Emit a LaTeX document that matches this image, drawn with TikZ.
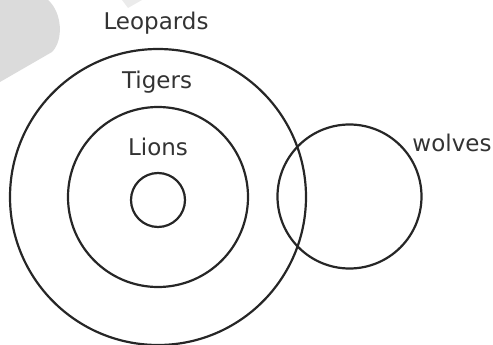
\documentclass[tikz,border=0pt]{standalone}
\usepackage{fontspec}
\setmainfont{DejaVu Sans}
\begin{document}
\begin{tikzpicture}[x=1pt,y=-1pt,
  ring/.style={draw=black!85,line width=2.2pt},
  lbl/.style={text=black!80,font=\fontsize{23}{26}\selectfont,inner sep=0pt}]
\useasboundingbox (0,0) rectangle (493,345);
% faint background marks
\fill[black!14] (0,0) -- (48,0) .. controls (62,12) and (64,40) .. (52,52) -- (0,82) -- cycle;
\fill[black!8] (122,0) -- (142,0) -- (128,8) -- cycle;
% circles
\node[ring,circle,minimum size=296pt,inner sep=0pt] (leo) at (158,197) {};
\node[ring,circle,minimum size=180pt,inner sep=0pt] (tig) at (158,197) {};
\node[ring,circle,minimum size=54pt,inner sep=0pt] (lio) at (158,200) {};
\node[ring,circle,minimum size=144pt,inner sep=0pt] (wol) at (349.5,196.5) {};
% labels
\node[lbl] (tleo) at (156,23) {Leopards};
\node[lbl] (ttig) at (157,82) {Tigers};
\node[lbl] (tlio) at (158,147) {Lions};
\node[lbl] (twol) at (452,143) {wolves};
\end{tikzpicture}
\end{document}
